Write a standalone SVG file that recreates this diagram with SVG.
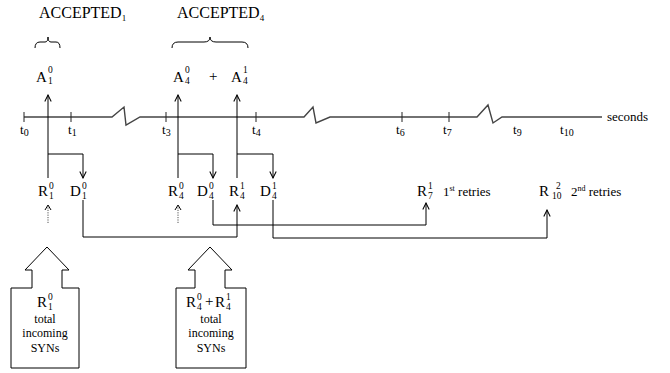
<svg xmlns="http://www.w3.org/2000/svg" width="670" height="373" viewBox="0 0 670 373">
<style>
text{font-family:"Liberation Serif","Times New Roman",serif;fill:#000}
.l{font-size:15px}
.s{font-size:9.5px}
.t{font-size:13px}
.b{font-size:12px}
.ln{fill:none;stroke:#000;stroke-width:1}
.tl{fill:none;stroke:#444;stroke-width:1.4}
.dot{fill:none;stroke:#555;stroke-width:1;stroke-dasharray:1.2 1.2}
</style>
<defs>
<marker id="ah" viewBox="0 0 10 10" refX="9" refY="5" markerWidth="8" markerHeight="8" markerUnits="userSpaceOnUse" orient="auto">
<polyline points="1,1 9,5 1,9" fill="none" stroke="#000" stroke-width="1.3"/>
</marker>
</defs>
<rect width="670" height="373" fill="#fff"/>
<g id="timeline">
<polyline class="tl" points="24,117 112,117 124,107 126,125 140,117 304,117 313,107 316,123 330,117 477,117 488,105 493,123 502,117 602,117"/>
<g stroke="#222" stroke-width="1">
<line x1="24" y1="112" x2="24" y2="122"/>
<line x1="71" y1="112" x2="71" y2="122"/>
<line x1="166" y1="112" x2="166" y2="122"/>
<line x1="256" y1="112" x2="256" y2="122"/>
<line x1="402" y1="112" x2="402" y2="122"/>
<line x1="449" y1="112" x2="449" y2="122"/>
</g>
<text class="t" x="607" y="121">seconds</text>
<text class="t" x="20" y="134">t<tspan font-size="10" dy="2">0</tspan></text>
<text class="t" x="68" y="134">t<tspan font-size="10" dy="2">1</tspan></text>
<text class="t" x="162" y="134">t<tspan font-size="10" dy="2">3</tspan></text>
<text class="t" x="252" y="134">t<tspan font-size="10" dy="2">4</tspan></text>
<text class="t" x="396" y="134">t<tspan font-size="10" dy="2">6</tspan></text>
<text class="t" x="443" y="134">t<tspan font-size="10" dy="2">7</tspan></text>
<text class="t" x="513" y="134">t<tspan font-size="10" dy="2">9</tspan></text>
<text class="t" x="560" y="134">t<tspan font-size="10" dy="2">10</tspan></text>
</g>
<g id="accepted1">
<text x="39" y="18" font-size="16">ACCEPTED<tspan font-size="9" dy="3">1</tspan></text>
<path class="ln" d="M35,48 Q35,42 40,42 L45,42 Q48,42 48,37 Q48,42 51,42 L56,42 Q60,42 60,48"/>
</g>
<g id="accepted4">
<text x="177" y="18" font-size="16">ACCEPTED<tspan font-size="9" dy="3">4</tspan></text>
<path class="ln" d="M172,48 Q172,42 178,42 L204,42 Q210,42 210,37 Q210,42 216,42 L242,42 Q248,42 248,48"/>
</g>
<g id="A10">
<text class="l" x="36" y="82">A</text><text class="s" x="48" y="73">0</text><text class="s" x="48" y="84">1</text>
</g>
<g id="A40">
<text class="l" x="173" y="82">A</text><text class="s" x="185" y="73">0</text><text class="s" x="185" y="84">4</text>
</g>
<g id="plus"><text class="l" x="209" y="81">+</text></g>
<g id="A41">
<text class="l" x="231" y="82">A</text><text class="s" x="243" y="73">1</text><text class="s" x="243" y="84">4</text>
</g>
<g id="R10">
<text class="l" x="38" y="196">R</text><text class="s" x="49" y="189">0</text><text class="s" x="49" y="199">1</text>
</g>
<g id="D10">
<text class="l" x="70" y="196">D</text><text class="s" x="82" y="189">0</text><text class="s" x="82" y="199">1</text>
</g>
<g id="R40">
<text class="l" x="168" y="196">R</text><text class="s" x="179" y="189">0</text><text class="s" x="179" y="199">4</text>
</g>
<g id="D40">
<text class="l" x="197" y="196">D</text><text class="s" x="209" y="189">0</text><text class="s" x="209" y="199">4</text>
</g>
<g id="R41">
<text class="l" x="229" y="196">R</text><text class="s" x="240" y="189">1</text><text class="s" x="240" y="199">4</text>
</g>
<g id="D41">
<text class="l" x="260" y="196">D</text><text class="s" x="272" y="189">1</text><text class="s" x="272" y="199">4</text>
</g>
<g id="R71">
<text class="l" x="417" y="196">R</text><text class="s" x="428" y="189">1</text><text class="s" x="428" y="199">7</text>
<text class="t" x="443" y="196">1<tspan font-size="8" dy="-5">st</tspan><tspan dy="5"> retries</tspan></text>
</g>
<g id="R102">
<text class="l" x="539" y="196">R</text><text class="s" x="556" y="189">2</text><text class="s" x="552" y="199">10</text>
<text class="t" x="571" y="196">2<tspan font-size="8" dy="-5">nd</tspan><tspan dy="5"> retries</tspan></text>
</g>
<g id="box1">
<path class="ln" d="M11,288 H32 V270 H25 L47,247 L69,270 H62 V288 H79 V368 H11 Z"/>
<text class="l" x="37" y="307">R</text><text class="s" x="48" y="300">0</text><text class="s" x="48" y="310">1</text>
<g class="b" text-anchor="middle">
<text x="45" y="323">total</text>
<text x="45" y="337">incoming</text>
<text x="45" y="352">SYNs</text>
</g>
</g>
<g id="box2">
<path class="ln" d="M176,288 H195 V270 H188 L210,247 L232,270 H225 V288 H246 V368 H176 Z"/>
<text class="l" x="186" y="307">R</text><text class="s" x="197" y="300">0</text><text class="s" x="197" y="310">4</text>
<text class="l" x="205" y="306">+</text>
<text class="l" x="215" y="307">R</text><text class="s" x="226" y="300">1</text><text class="s" x="226" y="310">4</text>
<g class="b" text-anchor="middle">
<text x="211" y="323">total</text>
<text x="211" y="337">incoming</text>
<text x="211" y="352">SYNs</text>
</g>
</g>
<g id="connectors">
<polyline class="ln" points="48,178 48,95" marker-end="url(#ah)"/>
<polyline class="ln" points="48,154 83,154 83,178" marker-end="url(#ah)"/>
<polyline class="ln" points="178,178 178,95" marker-end="url(#ah)"/>
<polyline class="ln" points="178,154 213,154 213,178" marker-end="url(#ah)"/>
<polyline class="ln" points="237,178 237,95" marker-end="url(#ah)"/>
<polyline class="ln" points="237,154 273,154 273,178" marker-end="url(#ah)"/>
<line class="dot" x1="48" y1="223" x2="48" y2="206"/>
<polyline class="ln" points="45,210 48,205 51,210" stroke-width="0.8"/>
<line class="dot" x1="178" y1="223" x2="178" y2="206"/>
<polyline class="ln" points="175,210 178,205 181,210" stroke-width="0.8"/>
<polyline class="ln" points="83,200 83,237 237,237 237,205" marker-end="url(#ah)"/>
<polyline class="ln" points="213,200 213,225 426,225 426,203" marker-end="url(#ah)"/>
<polyline class="ln" points="273,200 273,238 547,238 547,210" marker-end="url(#ah)" stroke="#333"/>
</g>
</svg>
